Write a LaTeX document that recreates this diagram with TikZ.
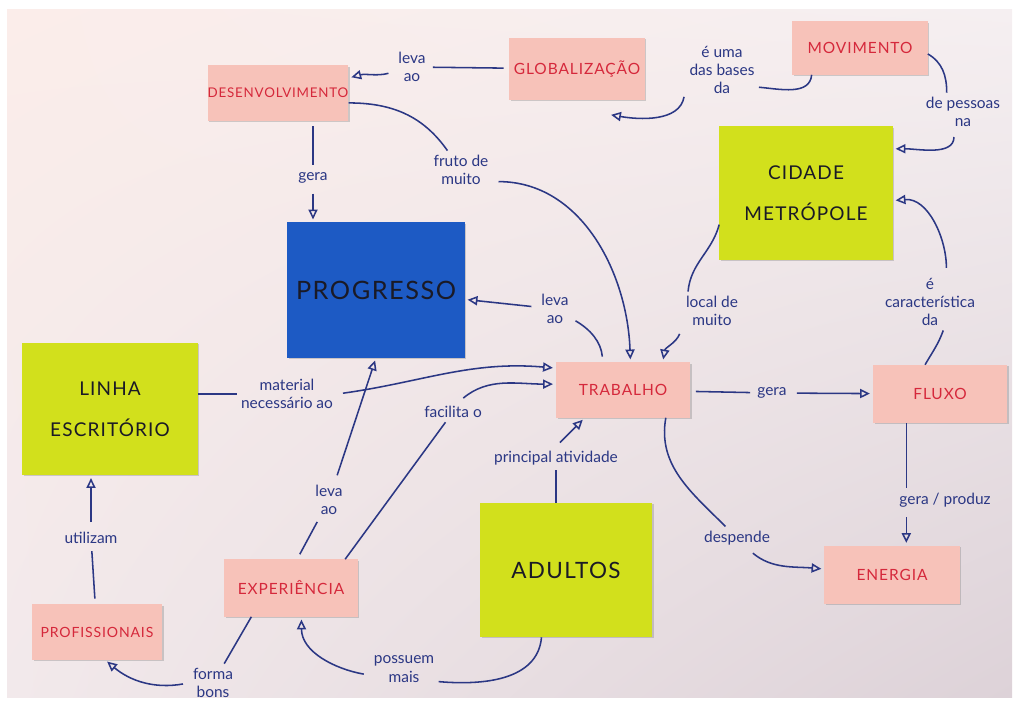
\documentclass[tikz,border=0pt]{standalone}
\usepackage{fontspec}
\setmainfont{Lato}
\newfontfamily\notefont[LetterSpace=6]{Lato}
\usepackage{tikz}
\usetikzlibrary{arrows.meta,shadows,shadings}

\definecolor{ink}{HTML}{2B3784}
\definecolor{redpen}{HTML}{D5283B}
\definecolor{pinkpaper}{HTML}{F7C2B9}
\definecolor{limepaper}{HTML}{D2E01C}
\definecolor{bluepaper}{HTML}{1D5AC4}
\definecolor{blackpen}{HTML}{1A1A26}
\definecolor{sheetA}{HTML}{FBEDEA}
\definecolor{sheetB}{HTML}{F5EFF1}
\definecolor{sheetC}{HTML}{F2E9EB}
\definecolor{sheetD}{HTML}{DDD2D8}

\begin{document}
\begin{tikzpicture}[x=0.025cm,y=0.025cm,>={Triangle[open,length=7pt,width=6.5pt]},
  note/.style={inner sep=0pt,align=center,drop shadow={shadow xshift=1.2pt,shadow yshift=-1pt,opacity=.35}},
  pinknote/.style={note,fill=pinkpaper,text=redpen,minimum width=3.375cm,minimum height=1.4cm,font=\notefont\fontsize{11}{13}\selectfont},
  limenote/.style={note,fill=limepaper,text=blackpen,minimum width=4.35cm,minimum height=3.33cm,font=\notefont\fontsize{13.5}{29}\selectfont},
  lbl/.style={text=ink,align=center,inner sep=3pt,font=\fontsize{11}{13}\selectfont},
  link/.style={draw=ink,line width=1.1pt,shorten <=4pt,shorten >=2pt}]
\useasboundingbox (0,0) rectangle (1018,-702);
\shade[upper left=sheetA,upper right=sheetB,lower left=sheetC,lower right=sheetD] (7,-10) rectangle (1012,-697);
% notes
\path (278,-93) node[pinknote,minimum height=1.375cm,font=\notefont\fontsize{9.5}{11}\selectfont] (desenv) {DESENVOLVIMENTO}
 (577,-69) node[pinknote,minimum height=1.55cm] (glob) {GLOBALIZAÇÃO}
 (860,-48) node[pinknote,minimum height=1.325cm] (movim) {MOVIMENTO}
 (806,-193) node[limenote,minimum width=4.325cm] (cidade) {CIDADE\\METRÓPOLE}
 (376,-290) node[note,fill=bluepaper,text=blackpen,minimum width=4.425cm,minimum height=3.375cm,font=\notefont\fontsize{18}{20}\selectfont] (progresso) {PROGRESSO}
 (110,-409) node[limenote,minimum width=4.375cm,minimum height=3.3cm] (linha) {LINHA\\ESCRITÓRIO}
 (623,-390) node[pinknote,minimum width=3.35cm,minimum height=1.375cm] (trabalho) {TRABALHO}
 (940,-394) node[pinknote,minimum width=3.35cm,minimum height=1.45cm] (fluxo) {FLUXO}
 (566,-570) node[limenote,minimum width=4.3cm,minimum height=3.35cm,font=\notefont\fontsize{16}{20}\selectfont] (adultos) {ADULTOS}
 (291,-588) node[pinknote,minimum width=3.325cm,minimum height=1.425cm] (exper) {EXPERIÊNCIA}
 (97,-632) node[pinknote,minimum width=3.25cm,minimum height=1.375cm,font=\notefont\fontsize{10}{12}\selectfont] (profiss) {PROFISSIONAIS}
 (892,-575) node[pinknote,minimum height=1.45cm] (energia) {ENERGIA};
% labels
\path (412,-67) node[lbl] (lA) {leva\\ao}
 (313,-178) node[lbl] (lB) {gera}
 (461,-170) node[lbl] (lC) {fruto de\\muito}
 (722,-70) node[lbl] (lD) {é uma\\das bases\\da}
 (963,-112) node[lbl] (lE) {de pessoas\\na}
 (712,-311) node[lbl] (lF) {local de\\muito}
 (930,-302) node[lbl] (lG) {é\\característica\\da}
 (555,-309) node[lbl] (lH) {leva\\ao}
 (287,-394) node[lbl] (lI) {material\\necessário ao}
 (453,-412) node[lbl] (lJ) {facilita o}
 (329,-500) node[lbl] (lK) {leva\\ao}
 (556,-458) node[lbl] (lL) {principal atividade}
 (404,-669) node[lbl] (lM) {possuem\\mais}
 (213,-683) node[lbl] (lN) {forma\\bons}
 (91,-538) node[lbl] (lO) {utilizam}
 (772,-393) node[lbl] (lP) {gera}
 (737,-538) node[lbl] (lQ) {despende}
 (945,-500) node[lbl] (lR) {gera / produz};
% links
\draw[link] (glob) -- (lA) (lA) edge[->,out=195,in=15] (desenv.12);
\draw[link] (desenv.south -| lB) -- (lB) (lB) edge[->] (progresso.north -| lB);
\draw[link] (desenv.-8) to[out=0,in=125] (lC) (lC.-20) edge[->,out=0,in=92] (trabalho.75);
\draw[link] (movim.209) to[out=-95,in=-5] (lD.-25) (lD.-150) edge[->,out=-100,in=-10] ([yshift=-10pt]glob.-45);
\draw[link] (movim.-5) to[out=-30,in=90] (lE.130) (lE.-115) edge[->,out=-90,in=0] (cidade.27);
\draw[link] (cidade.200) to[out=-105,in=85] (lF.141) (lF.-150) edge[->,out=-110,in=80] (trabalho.35);
\draw[link] (fluxo.117) to[out=60,in=-110] (lG.-65) (lG.60) edge[->,out=90,in=5] (cidade.-5);
\draw[link] (trabalho.126) to[out=95,in=-30] (lH) (lH) edge[->] (progresso);
\draw[link] (linha.east |- lI) -- (lI) (lI.east) edge[->,out=8,in=175] (trabalho.162);
\draw[link] (exper.28) -- (lJ) (lJ.60) edge[->,out=40,in=180] (trabalho.175);
\draw[link] (exper.78) -- (lK) (lK) edge[->] (progresso.south);
\draw[link] (adultos.north -| lL) -- (lL) (lL.north) edge[->] (trabalho.216);
\draw[link] (adultos.250) to[out=-95,in=-5] (lM.-20) (lM.190) edge[->,out=170,in=-90] (exper.-70);
\draw[link] (exper.216) -- (lN) (lN.west) edge[->,out=190,in=-40] (profiss.-74);
\draw[link] (profiss) -- (lO) (lO) edge[->] (linha.south -| lO);
\draw[link] (trabalho) -- (lP) (lP) edge[->] (fluxo);
\draw[link] (trabalho.-33) to[out=-100,in=135] (lQ) (lQ.-45) edge[->,out=-40,in=175] (energia.175);
\draw[link] (fluxo.-139) -- (fluxo.-139 |- lR.north) (fluxo.-139 |- lR.south) edge[->] (fluxo.-139 |- energia.north);
\end{tikzpicture}
\end{document}
